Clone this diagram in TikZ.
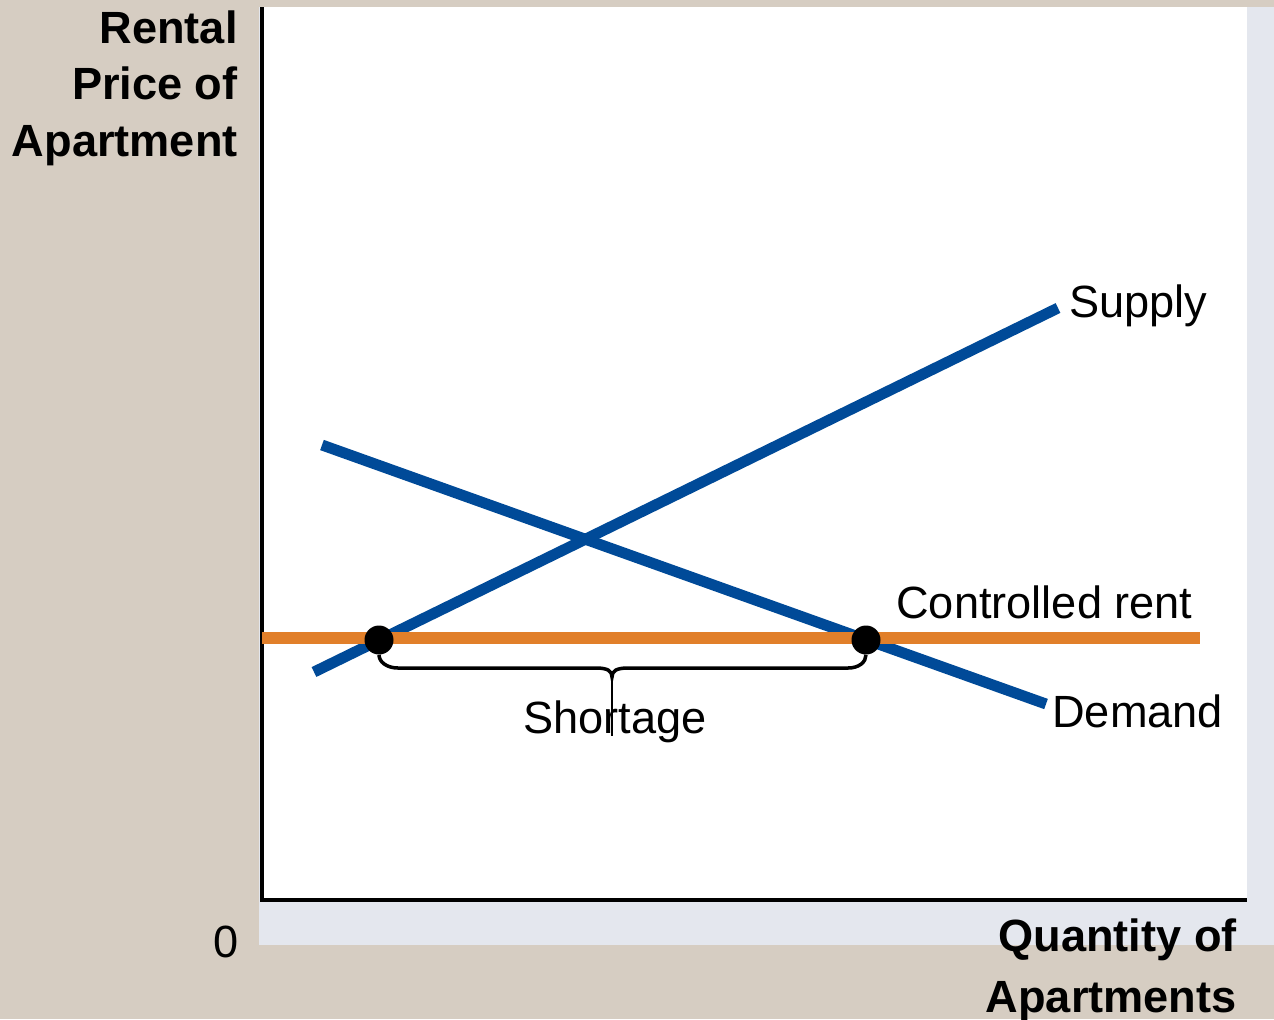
\documentclass[tikz,border=0pt]{standalone}
\usepackage{fontspec}
\setmainfont{Liberation Sans}
\definecolor{bgbeige}{HTML}{D6CDC2}
\definecolor{panelshade}{HTML}{E4E7EE}
\definecolor{curveblue}{HTML}{004A98}
\definecolor{rentorange}{HTML}{E17F2A}

\begin{document}
\begin{tikzpicture}[x=0.02cm,y=-0.02cm,
  curve/.style={line width=6.2pt,draw=curveblue},
  rentline/.style={line width=6.8pt,draw=rentorange},
  dot/.style={circle,fill=black,inner sep=0pt,minimum size=0.58cm},
  lbl/.style={font=\fontsize{25.7}{30}\selectfont,inner sep=0pt},
  axlbl/.style={font=\fontsize{25.7}{32}\selectfont\bfseries,inner sep=0pt,align=right}]

 % backdrop and panel
 \useasboundingbox (0,0) rectangle (1274,1019);
 \fill[bgbeige] (0,0) rectangle (1274,1019);
 \fill[panelshade] (259,7) rectangle (1274,945);
 \fill[white] (262,7) rectangle (1247,900);

 % axes
 \coordinate (ytop) at (262,7);
 \coordinate (origin) at (262,900);
 \coordinate (xend) at (1247,900);
 \draw[line width=2.3pt] (ytop) -- (origin) -- (xend);

 % supply and demand
 \coordinate (supL) at (314,672);
 \coordinate (supR) at (1058,308);
 \coordinate (demL) at (322,445);
 \coordinate (demR) at (1046,704);
 \draw[curve] (supL) -- (supR);
 \draw[curve] (demL) -- (demR);

 % controlled rent
 \coordinate (rentL) at (262,638);
 \coordinate (rentR) at (1200,638);
 \draw[rentline] (rentL) -- (rentR);

 \node[dot] (qs) at (379,640) {};
 \node[dot] (qd) at (866,640) {};

 % shortage brace
 \coordinate (tipTop) at (612,677);
 \coordinate (tipEnd) at (612,736);
 \draw[line width=2pt] (qs.south) .. controls (379,662) and (387,668) .. (398,668)
   -- (596,668) .. controls (608,668) and (612,671) .. (tipTop)
   .. controls (612,671) and (616,668) .. (628,668)
   -- (848,668) .. controls (859,668) and (866,662) .. (qd.south);
 \draw[line width=0.7pt] (tipTop) -- (tipEnd);

 % labels
 \node[lbl,anchor=base west] (supply) at (1069,317) {Supply};
 \node[lbl,anchor=base west] (rent) at (896,618) {Controlled rent};
 \node[lbl,anchor=base west] (demand) at (1052,727) {Demand};
 \node[lbl,anchor=base] (shortage) at (615,733) {Shortage};
 \node[lbl,anchor=base east] (zero) at (239,957) {0};
 \node[axlbl,anchor=base east] (ylab) at (238,156) {Rental\\Price of\\Apartment};
 \node[axlbl,anchor=base east,font=\fontsize{25.7}{34.6}\selectfont\bfseries] (xlab) at (1237,1012) {Quantity of\\Apartments};
\end{tikzpicture}
\end{document}
